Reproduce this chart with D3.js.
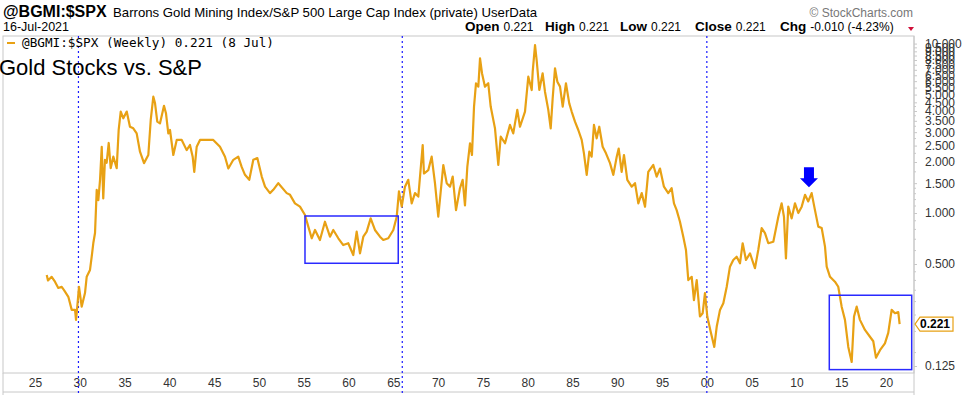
<!DOCTYPE html>
<html>
  <head>
    <meta charset="utf-8">
    <title>Gold Stocks vs. S&amp;P</title>
    <script src="https://d3js.org/d3.v7.min.js"></script>
    <style>
      body { margin: 0; background: #fff; }
      svg { display: block; font-family: Arial, "Liberation Sans", sans-serif; }
      .axis path, .axis line { stroke: #c8c8c8; }
      .axis text { fill: #333; font-size: 12px; }
    </style>
  </head>
  <body>
    <svg id="chart" width="966" height="395"></svg>
    <script>
      // weekly ratio (decimal years)
      var years = [1926.31, 1926.45, 1926.86, 1927.23, 1927.60, 1927.98, 1928.35, 1928.72, 1929.10, 1929.47,
        1929.58, 1929.72, 1929.91, 1930.21, 1930.58, 1930.77, 1931.14, 1931.33, 1931.51, 1931.70,
        1931.89, 1932.07, 1932.26, 1932.45, 1932.62, 1932.81, 1933.00, 1933.23, 1933.45, 1933.74,
        1934.12, 1934.34, 1934.57, 1934.86, 1935.24, 1935.60, 1935.97, 1936.35, 1936.72, 1937.17,
        1937.65, 1937.92, 1938.21, 1938.40, 1938.65, 1938.95, 1939.40, 1939.62, 1939.88, 1940.07,
        1940.44, 1940.82, 1941.38, 1941.93, 1942.30, 1942.60, 1942.78, 1943.05, 1943.42, 1944.17,
        1944.90, 1945.65, 1946.21, 1946.58, 1947.14, 1947.69, 1948.07, 1948.44, 1948.92, 1949.37,
        1949.82, 1950.31, 1950.68, 1951.23, 1951.60, 1952.16, 1953.10, 1953.47, 1954.02, 1954.58,
        1955.14, 1955.51, 1955.89, 1956.26, 1956.81, 1957.37, 1957.93, 1958.30, 1958.86, 1959.41,
        1959.97, 1960.53, 1960.91, 1961.28, 1961.65, 1962.03, 1962.47, 1962.95, 1963.51, 1963.88,
        1964.44, 1965.00, 1965.38, 1965.63, 1965.94, 1966.30, 1966.67, 1967.05, 1967.42, 1967.79,
        1968.28, 1968.42, 1968.90, 1969.28, 1969.65, 1970.02, 1970.58, 1970.96, 1971.33, 1971.63,
        1972.00, 1972.44, 1972.74, 1973.00, 1973.26, 1973.56, 1973.78, 1974.01, 1974.23, 1974.49,
        1974.68, 1974.90, 1975.23, 1975.60, 1975.87, 1976.35, 1976.72, 1976.99, 1977.47, 1978.02,
        1978.39, 1978.84, 1979.14, 1979.70, 1980.07, 1980.45, 1980.56, 1980.82, 1981.00, 1981.30,
        1981.67, 1981.93, 1982.30, 1982.57, 1982.79, 1983.05, 1983.31, 1983.61, 1983.91, 1984.27,
        1984.64, 1984.91, 1985.28, 1985.65, 1986.03, 1986.28, 1986.59, 1986.88, 1987.14, 1987.40,
        1987.70, 1987.99, 1988.37, 1988.74, 1989.19, 1989.56, 1989.94, 1990.16, 1990.49, 1990.75,
        1991.12, 1991.61, 1991.98, 1992.35, 1992.73, 1993.10, 1993.46, 1994.02, 1994.40, 1994.77,
        1995.21, 1995.69, 1996.07, 1996.33, 1996.63, 1997.00, 1997.37, 1997.67, 1997.93, 1998.31,
        1998.56, 1998.87, 1999.23, 1999.53, 1999.79, 2000.05, 2000.43, 2000.83, 2001.10, 2001.47,
        2001.84, 2002.22, 2002.58, 2002.95, 2003.33, 2003.70, 2004.00, 2004.37, 2004.82, 2005.37,
        2005.74, 2006.12, 2006.49, 2006.86, 2007.42, 2007.98, 2008.35, 2008.61, 2008.83, 2009.09,
        2009.47, 2009.84, 2010.21, 2010.59, 2010.96, 2011.32, 2011.70, 2012.07, 2012.44, 2012.82,
        2013.19, 2013.38, 2013.75, 2014.30, 2014.67, 2015.05, 2015.42, 2015.79, 2016.17, 2016.43,
        2016.73, 2017.09, 2017.65, 2018.21, 2018.58, 2018.88, 2019.33, 2019.88, 2020.25, 2020.63,
        2021.00, 2021.37, 2021.52];
      var ratio = [0.43, 0.40, 0.42, 0.393, 0.361, 0.367, 0.343, 0.320, 0.268, 0.268,
        0.234, 0.280, 0.367, 0.280, 0.337, 0.420, 0.461, 0.552, 0.665, 0.762,
        1.37, 1.19, 1.57, 2.46, 1.22, 2.06, 1.98, 2.59, 1.84, 2.15,
        1.84, 3.09, 3.97, 3.62, 3.97, 3.23, 3.16, 2.95, 2.30, 1.97,
        2.20, 3.54, 4.86, 4.44, 3.46, 3.38, 4.29, 3.88, 2.95, 3.09,
        2.20, 2.70, 2.70, 2.35, 2.52, 2.15, 1.75, 2.46, 2.70, 2.70,
        2.70, 2.46, 2.15, 1.83, 2.06, 2.15, 1.87, 1.68, 1.57, 2.06,
        2.11, 1.64, 1.43, 1.31, 1.37, 1.50, 1.31, 1.28, 1.14, 1.09,
        0.973, 0.831, 0.709, 0.794, 0.693, 0.888, 0.725, 0.794, 0.709, 0.647,
        0.663, 0.565, 0.776, 0.578, 0.725, 0.776, 0.930, 0.794, 0.725, 0.693,
        0.709, 0.794, 0.951, 1.34, 1.09, 1.43, 1.57, 1.14, 1.31, 1.25,
        2.52, 1.71, 1.79, 2.15, 1.50, 0.951, 1.92, 1.50, 1.43, 1.64,
        1.04, 1.40, 1.57, 1.11, 1.87, 2.58, 2.20, 4.25, 5.83, 5.57,
        8.19, 6.68, 5.57, 5.83, 4.25, 3.16, 1.92, 2.82, 2.58, 3.31,
        2.95, 4.06, 3.23, 3.97, 6.38, 5.32, 6.83, 9.80, 8.00, 5.32,
        6.68, 5.20, 4.06, 3.16, 4.76, 7.15, 5.96, 5.57, 4.25, 5.83,
        4.44, 3.97, 3.46, 3.09, 2.70, 2.25, 1.68, 2.30, 2.15, 3.31,
        2.76, 3.23, 2.46, 2.25, 1.97, 1.68, 2.15, 2.40, 1.75, 2.20,
        1.57, 1.43, 1.50, 1.14, 1.31, 1.09, 1.75, 1.92, 1.64, 1.83,
        1.43, 1.31, 1.40, 1.14, 1.04, 0.888, 0.725, 0.605, 0.402, 0.420,
        0.306, 0.402, 0.245, 0.256, 0.337, 0.245, 0.199, 0.162, 0.213, 0.268,
        0.293, 0.367, 0.482, 0.528, 0.552, 0.505, 0.663, 0.528, 0.578, 0.472,
        0.605, 0.815, 0.760, 0.663, 0.677, 0.951, 1.14, 0.951, 0.540, 1.09,
        0.93, 1.14, 1.00, 1.09, 1.28, 1.17, 1.31, 1.04, 0.831, 0.815,
        0.633, 0.482, 0.42, 0.393, 0.367, 0.280, 0.234, 0.162, 0.132, 0.245,
        0.280, 0.234, 0.204, 0.186, 0.175, 0.140, 0.155, 0.170, 0.196, 0.268,
        0.256, 0.26, 0.221];
      // axis labels
      var xTicks = d3.range(1925, 2021, 5);
      var yTicks = [0.125, 0.5, 1, 1.5, 2, 2.5, 3, 3.5, 4, 4.5, 5, 5.5, 6, 6.5, 7, 7.5, 8, 8.5, 9, 9.5, 10];
      var yMinor = [0.15, 0.2, 0.25, 0.3, 0.35, 0.4, 0.45, 0.6, 0.7, 0.8, 0.9, 1.1, 1.2, 1.3, 1.4,
        1.75, 2.25, 2.75, 3.25, 3.75, 4.25];
      // quote line
      var quoteNames = ["Open", "High", "Low", "Close", "Chg"];
      var quoteValues = ["0.221", "0.221", "0.221", "0.221", "-0.010 (-4.23%)"];
      // annotations
      var markerYears = [1929.85, 1966, 2000];
      var boxes = [
        { x0: 1955.14, x1: 1965.55, y0: 0.96, y1: 0.505 },
        { x0: 2013.67, x1: 2022.87, y0: 0.327, y1: 0.119 }
      ];
      var arrowAt = { year: 2011.4, value: 1.42 };

      var data = years.map(function(d, i) { return { year: d, value: ratio[i] }; });
      var last = data[data.length - 1];

      var margin = { top: 36, right: 914, bottom: 373, left: 3 };
      var gold = "#e8a114";
      var svg = d3.select("#chart");

      var x = d3.scaleLinear().domain([1925, 2020]).range([35, 886]);
      var y = d3.scaleLog().domain([0.125, 1]).range([366, 213]);

      // header
      var head = svg.append("g");
      head.append("text").attr("x", 3).attr("y", 17)
        .style("font-size", "16px").style("font-weight", "bold").text("@BGMI:$SPX");
      head.append("text").attr("x", 113).attr("y", 17)
        .style("font-size", "13.2px").text("Barrons Gold Mining Index/S&P 500 Large Cap Index (private) UserData");
      head.append("text").attr("x", 913).attr("y", 17).attr("text-anchor", "end")
        .style("font-size", "12px").style("fill", "#777").text("\u00a9 StockCharts.com");
      head.append("text").attr("x", 3).attr("y", 31)
        .style("font-size", "12.5px").text("16-Jul-2021");
      var quoteX = [465, 545, 620, 695, 780];
      quoteNames.forEach(function(name, i) {
        var t = head.append("text").attr("x", quoteX[i]).attr("y", 31).style("font-size", "12px");
        t.append("tspan").style("font-weight", "bold").style("font-size", "13.5px").text(name);
        t.append("tspan").attr("dx", 4).text(quoteValues[i]);
      });
      head.append("path").attr("d", "M908,27 L914,27 L911,31 Z").attr("fill", "#d0103a");

      // plot frame
      svg.append("rect")
        .attr("x", margin.left).attr("y", margin.top)
        .attr("width", margin.right - margin.left).attr("height", margin.bottom - margin.top)
        .attr("fill", "none").attr("stroke", "#c8c8c8");
      svg.append("line")
        .attr("x1", margin.left).attr("x2", margin.right).attr("y1", 392).attr("y2", 392)
        .attr("stroke", "#c8c8c8");
      svg.append("line")
        .attr("x1", margin.left).attr("x2", margin.left).attr("y1", 373).attr("y2", 395)
        .attr("stroke", "#c8c8c8");
      svg.append("line")
        .attr("x1", margin.right).attr("x2", margin.right).attr("y1", 373).attr("y2", 395)
        .attr("stroke", "#c8c8c8");

      // axes
      var xAxis = d3.axisBottom(x)
        .tickValues(xTicks)
        .tickSize(0)
        .tickPadding(5)
        .tickFormat(function(d) { return d3.format("02d")(d % 100); });
      svg.append("g").attr("class", "axis")
        .attr("transform", "translate(0," + margin.bottom + ")")
        .call(xAxis)
        .call(function(g) { g.select(".domain").remove(); });

      var yAxis = d3.axisRight(y)
        .tickValues(yTicks)
        .tickSize(3)
        .tickPadding(8)
        .tickFormat(d3.format(".3f"));
      svg.append("g").attr("class", "axis")
        .attr("transform", "translate(" + margin.right + ",0)")
        .call(yAxis)
        .call(function(g) {
          g.select(".domain").attr("d", "M0," + margin.top + "V" + margin.bottom);
        });
      svg.append("g").selectAll("line")
        .data(yMinor)
        .join("line")
          .attr("x1", margin.right).attr("x2", margin.right + 2)
          .attr("y1", function(d) { return y(d); }).attr("y2", function(d) { return y(d); })
          .attr("stroke", "#c8c8c8");

      // vertical markers
      svg.append("g").selectAll("line")
        .data(markerYears)
        .join("line")
          .attr("x1", function(d) { return x(d); }).attr("x2", function(d) { return x(d); })
          .attr("y1", margin.top).attr("y2", 395)
          .attr("stroke", "#1a1aff").attr("stroke-width", 1.2).attr("stroke-dasharray", "2,3");

      // title and legend
      svg.append("text").attr("x", -1).attr("y", 75)
        .style("font-size", "22px").text("Gold Stocks vs. S&P");
      svg.append("line").attr("x1", 7).attr("x2", 15).attr("y1", 43).attr("y2", 43)
        .attr("stroke", gold).attr("stroke-width", 2);
      svg.append("text").attr("x", 22).attr("y", 47)
        .attr("textLength", 252).attr("lengthAdjust", "spacingAndGlyphs")
        .style("font-family", "'DejaVu Sans Mono', monospace").style("font-size", "11.5px")
        .text("@BGMI:$SPX (Weekly) 0.221 (8 Jul)");

      // the ratio line
      var line = d3.line()
        .x(function(d) { return x(d.year); })
        .y(function(d) { return y(d.value); });
      svg.append("path")
        .datum(data)
        .attr("d", line)
        .attr("fill", "none")
        .attr("stroke", gold)
        .attr("stroke-width", 2.2)
        .attr("stroke-linejoin", "round");

      // boxes
      svg.append("g").selectAll("rect")
        .data(boxes)
        .join("rect")
          .attr("x", function(d) { return x(d.x0); })
          .attr("y", function(d) { return y(d.y0); })
          .attr("width", function(d) { return x(d.x1) - x(d.x0); })
          .attr("height", function(d) { return y(d.y1) - y(d.y0); })
          .attr("fill", "none").attr("stroke", "#2a2aff").attr("stroke-width", 1.5);

      // arrow
      var ax = x(arrowAt.year), ay = y(arrowAt.value);
      svg.append("path")
        .attr("d", "M" + (ax - 5) + "," + (ay - 20) + "H" + (ax + 5) + "V" + (ay - 9) +
          "H" + (ax + 9) + "L" + ax + "," + ay + "L" + (ax - 9) + "," + (ay - 9) + "H" + (ax - 5) + "Z")
        .attr("fill", "#0000ff");

      // last value label
      var ly = y(last.value);
      svg.append("path")
        .attr("d", "M" + (margin.right + 1) + "," + ly + "L" + (margin.right + 6) + "," + (ly - 7) +
          "H953V" + (ly + 7) + "H" + (margin.right + 6) + "Z")
        .attr("fill", "#fff").attr("stroke", gold).attr("stroke-width", 1.2);
      svg.append("text").attr("x", 935).attr("y", ly + 4).attr("text-anchor", "middle")
        .style("font-size", "12px").style("font-weight", "bold").text(d3.format(".3f")(last.value));
    </script>
  </body>
</html>
